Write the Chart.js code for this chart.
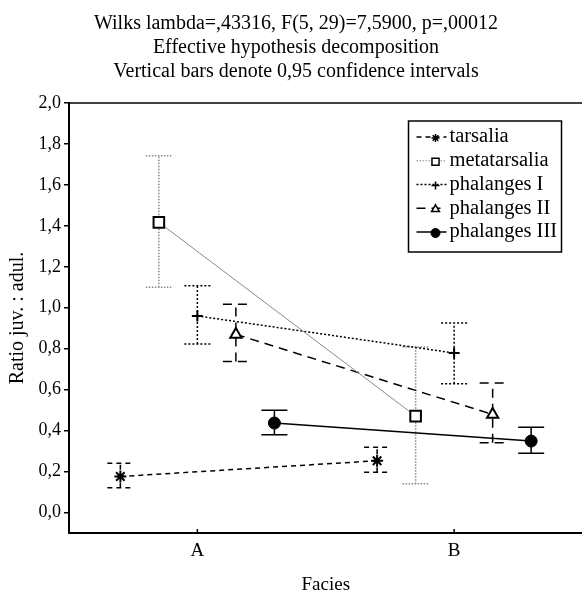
<!DOCTYPE html>
<html>
<head>
<meta charset="utf-8">
<script src="https://cdn.jsdelivr.net/npm/chart.js@4.4.0/dist/chart.umd.min.js"></script>
<style>
  html, body { margin: 0; padding: 0; background: #fff; overflow: hidden; }
  #wrap { width: 592px; height: 600px; }
</style>
</head>
<body>
<div id="wrap"><canvas id="myChart" width="592" height="600"></canvas></div>
<script>
// data
const categories = ['A', 'B'];
const seriesNames = ['tarsalia', 'metatarsalia', 'phalanges I', 'phalanges II', 'phalanges III'];

const tarsalia = [0.176, 0.253];
const tarsaliaLow = [0.121, 0.197];
const tarsaliaHigh = [0.241, 0.319];

const metatarsalia = [1.417, 0.471];
const metatarsaliaLow = [1.100, 0.140];
const metatarsaliaHigh = [1.742, 0.808];

const phalangesI = [0.960, 0.779];
const phalangesILow = [0.823, 0.629];
const phalangesIHigh = [1.107, 0.926];

const phalangesII = [0.870, 0.479];
const phalangesIILow = [0.737, 0.341];
const phalangesIIHigh = [1.017, 0.632];

const phalangesIII = [0.437, 0.349];
const phalangesIIILow = [0.380, 0.289];
const phalangesIIIHigh = [0.499, 0.417];

const yTicks = [0, 0.2, 0.4, 0.6, 0.8, 1.0, 1.2, 1.4, 1.6, 1.8, 2.0];

const titleLines = [
  'Wilks lambda=,43316, F(5, 29)=7,5900, p=,00012',
  'Effective hypothesis decomposition',
  'Vertical bars denote 0,95 confidence intervals'
];

// styling
const serif = "'Liberation Serif', 'Times New Roman', serif";
const seriesOffset = [-0.3, -0.15, 0, 0.15, 0.3];
const styles = [
  { line: '#000', dash: [5, 4], width: 1.5, bar: '#000', barDash: [5, 4], point: 'star', r: 6, fill: '#000', lr: 4 },
  { line: '#8a8a8a', dash: [], width: 1, bar: '#8a8a8a', barDash: [1.5, 1.5], legendDash: [1.5, 1.5], point: 'rect', r: 7.5, fill: '#fff', lr: 5 },
  { line: '#000', dash: [2, 2], width: 1.5, bar: '#000', barDash: [2, 2], point: 'cross', r: 5.5, fill: '#000', lr: 4 },
  { line: '#000', dash: [9, 6], width: 1.5, bar: '#000', barDash: [9, 6], point: 'triangle', r: 6.5, fill: '#fff', lr: 4.5 },
  { line: '#000', dash: [], width: 1.5, bar: '#000', barDash: [], point: 'circle', r: 6, fill: '#000', lr: 4.5 }
];

const values = [tarsalia, metatarsalia, phalangesI, phalangesII, phalangesIII];
const lows = [tarsaliaLow, metatarsaliaLow, phalangesILow, phalangesIILow, phalangesIIILow];
const highs = [tarsaliaHigh, metatarsaliaHigh, phalangesIHigh, phalangesIIHigh, phalangesIIIHigh];

const datasets = seriesNames.map((name, i) => {
  const s = styles[i];
  return {
    label: name,
    data: categories.map((c, j) => ({ x: j + 1 + seriesOffset[i], y: values[i][j], lo: lows[i][j], hi: highs[i][j] })),
    showLine: true,
    borderColor: s.line,
    borderDash: s.dash,
    borderWidth: s.width,
    pointStyle: s.point,
    pointRadius: s.r,
    pointHoverRadius: s.r,
    pointBorderColor: '#000',
    pointBackgroundColor: s.fill,
    pointBorderWidth: s.point === 'circle' ? 1 : 2,
    sty: s
  };
});

const errorBars = {
  id: 'errorBars',
  beforeDatasetsDraw(chart) {
    const ctx = chart.ctx;
    const xs = chart.scales.x, ys = chart.scales.y;
    chart.data.datasets.forEach(ds => {
      const s = ds.sty;
      ctx.save();
      ctx.strokeStyle = s.bar;
      ctx.lineWidth = 1.5;
      ctx.setLineDash(s.barDash);
      ds.data.forEach(p => {
        const x = xs.getPixelForValue(p.x);
        const y1 = ys.getPixelForValue(p.lo);
        const y2 = ys.getPixelForValue(p.hi);
        ctx.beginPath();
        ctx.moveTo(x, y1); ctx.lineTo(x, y2);
        ctx.moveTo(x - 13, y1); ctx.lineTo(x + 13, y1);
        ctx.moveTo(x - 13, y2); ctx.lineTo(x + 13, y2);
        ctx.stroke();
      });
      ctx.restore();
    });
  }
};

const frameAndLegend = {
  id: 'frameAndLegend',
  afterDraw(chart) {
    const ctx = chart.ctx;
    const ca = chart.chartArea;
    ctx.save();
    // top line of the frame
    ctx.strokeStyle = '#000';
    ctx.lineWidth = 1.5;
    ctx.beginPath();
    ctx.moveTo(ca.left, ca.top); ctx.lineTo(ca.right, ca.top);
    ctx.stroke();
    // inward ticks on x
    chart.scales.x.ticks.forEach(t => {
      const x = chart.scales.x.getPixelForValue(t.value);
      ctx.beginPath();
      ctx.moveTo(x, ca.bottom); ctx.lineTo(x, ca.bottom - 4);
      ctx.stroke();
    });

    // legend box
    const bx = ca.right - 174, by = ca.top + 18, bw = 153, bh = 131;
    ctx.fillStyle = '#fff';
    ctx.fillRect(bx, by, bw, bh);
    ctx.lineWidth = 1.5;
    ctx.strokeRect(bx, by, bw, bh);
    ctx.font = '20.5px ' + serif;
    ctx.textBaseline = 'middle';
    ctx.textAlign = 'left';
    chart.data.datasets.forEach((ds, i) => {
      const s = ds.sty;
      const y = by + 16 + i * 23.75;
      ctx.strokeStyle = s.line;
      ctx.lineWidth = s.width;
      ctx.setLineDash(s.legendDash || s.dash);
      ctx.beginPath();
      ctx.moveTo(bx + 8, y); ctx.lineTo(bx + 38, y);
      ctx.stroke();
      ctx.setLineDash([]);
      ctx.strokeStyle = '#000';
      ctx.fillStyle = s.fill;
      ctx.lineWidth = s.point === 'circle' ? 1 : 1.5;
      Chart.helpers.drawPoint(ctx, { pointStyle: s.point, radius: s.lr, rotation: 0, borderWidth: ctx.lineWidth }, bx + 27, y + 1);
      ctx.fillStyle = '#000';
      ctx.fillText(ds.label, bx + 41, y);
    });
    ctx.restore();
  }
};

const ctx = document.getElementById('myChart').getContext('2d');
const myChart = new Chart(ctx, {
  type: 'scatter',
  data: { datasets: datasets },
  options: {
    responsive: false,
    animation: false,
    devicePixelRatio: 1,
    layout: { padding: 0 },
    scales: {
      x: {
        type: 'linear',
        min: 0.5,
        max: 2.5,
        afterBuildTicks: s => { s.ticks = categories.map((c, j) => ({ value: j + 1 })); },
        ticks: {
          callback: v => categories[Math.round(v) - 1],
          font: { family: serif, size: 19 },
          color: '#000',
          padding: 7,
          maxRotation: 0,
          autoSkip: false
        },
        grid: { display: false, drawTicks: false },
        border: { display: true, color: '#000', width: 2 },
        title: {
          display: true, text: 'Facies', color: '#000',
          font: { family: serif, size: 19 },
          padding: { top: 0, bottom: 4 }
        },
        afterFit: s => { s.height = 67; }
      },
      y: {
        min: -0.1,
        max: 2.0,
        afterBuildTicks: s => { s.ticks = yTicks.map(v => ({ value: v })); },
        ticks: {
          callback: v => v.toFixed(1).replace('.', ','),
          font: { family: serif, size: 18 },
          color: '#000',
          padding: 3
        },
        grid: { drawOnChartArea: false, drawTicks: true, tickLength: 5, color: '#000', lineWidth: 1.5 },
        border: { display: true, color: '#000', width: 2 },
        title: {
          display: true, text: 'Ratio juv. : adul.', color: '#000',
          font: { family: serif, size: 20 },
          padding: { top: 6, bottom: 0 }
        },
        afterFit: s => { s.width = 69; }
      },
      y2: {
        position: 'right',
        display: true,
        ticks: { display: false },
        grid: { display: false, drawTicks: false },
        border: { display: false },
        afterFit: s => { s.width = 8; }
      }
    },
    plugins: {
      legend: { display: false },
      tooltip: { enabled: false },
      title: {
        display: true,
        text: titleLines,
        color: '#000',
        font: { family: serif, size: 20, weight: 'normal', lineHeight: 1.2 },
        padding: { top: 12, bottom: 19 }
      }
    }
  },
  plugins: [errorBars, frameAndLegend]
});
</script>
</body>
</html>
